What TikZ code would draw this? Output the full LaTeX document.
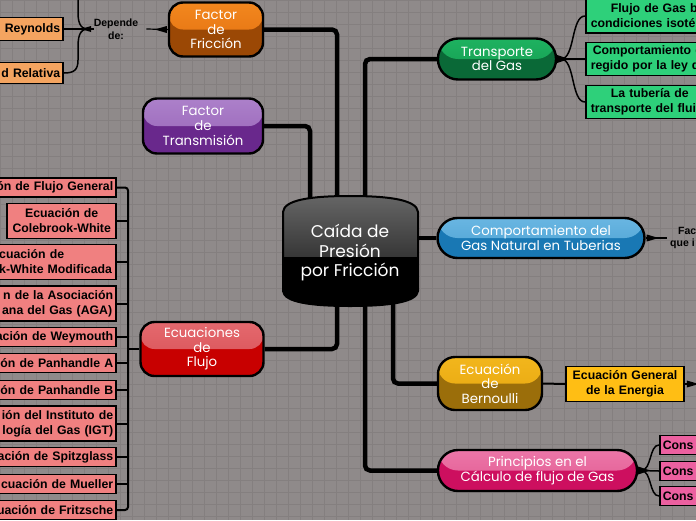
\documentclass[tikz,border=0pt]{standalone}
\usepackage{fontspec}
\newfontfamily\mfont{Poppins}
\newfontfamily\lfont{Liberation Sans}
\pgfdeclarelayer{grid}
\pgfdeclarelayer{lines}
\pgfsetlayers{grid,lines,main}
\definecolor{bgc}{RGB}{143,138,138}
\definecolor{gridc}{RGB}{132,127,127}
\definecolor{fricT}{RGB}{242,135,30}\definecolor{fricM}{RGB}{226,110,15}\definecolor{fricB}{RGB}{155,72,5}
\definecolor{purT}{RGB}{172,128,202}\definecolor{purM}{RGB}{150,98,182}\definecolor{purB}{RGB}{105,40,140}
\definecolor{redT}{RGB}{228,105,110}\definecolor{redM}{RGB}{215,78,82}\definecolor{redB}{RGB}{200,0,0}
\definecolor{grnT}{RGB}{30,178,96}\definecolor{grnM}{RGB}{20,155,80}\definecolor{grnB}{RGB}{10,105,55}
\definecolor{bluT}{RGB}{105,182,226}\definecolor{bluM}{RGB}{75,160,210}\definecolor{bluB}{RGB}{25,120,180}
\definecolor{gldT}{RGB}{242,182,28}\definecolor{gldM}{RGB}{230,165,15}\definecolor{gldB}{RGB}{155,110,10}
\definecolor{pnkT}{RGB}{236,118,168}\definecolor{pnkM}{RGB}{225,90,145}\definecolor{pnkB}{RGB}{205,15,95}
\definecolor{cylT}{RGB}{102,102,102}\definecolor{cylM}{RGB}{55,55,55}
\definecolor{lorange}{RGB}{244,164,96}
\definecolor{lred}{RGB}{240,128,128}
\definecolor{lgreen}{RGB}{46,208,122}
\definecolor{lgold}{RGB}{255,190,20}
\definecolor{lpink}{RGB}{236,96,160}
\begin{document}
\begin{tikzpicture}[x=1pt,y=-1pt,
  mnode/.style n args={3}{draw=black, line width=2.4pt, rounded corners=14pt, fill=#3,
    text=white, align=center, inner sep=0pt, font=\mfont\fontsize{13.3}{14.6}\selectfont,
    path picture={\shade[top color=#1, bottom color=#2] (path picture bounding box.north west) rectangle (path picture bounding box.east);}},
  pill/.style={rounded corners=20pt},
  leaf/.style={draw=black, line width=1.6pt, inner xsep=3pt, inner ysep=0pt, text=black,
    font=\lfont\bfseries\fontsize{12.3}{15}\selectfont},
  rleaf/.style={leaf, fill=lred, anchor=east, text width=160, align=right},
  small/.style={font=\lfont\bfseries\fontsize{10.5}{12.5}\selectfont, inner sep=0pt, text=black},
  mline/.style={line width=4.5pt, rounded corners=5pt},
  sline/.style={line width=2pt, rounded corners=3pt},
  fork/.style={line width=1.5pt},
  thinl/.style={line width=1.2pt}]
\useasboundingbox (0,0) rectangle (696,520);
\begin{pgfonlayer}{grid}
\fill[bgc] (0,0) rectangle (696,520);
\foreach \i in {0,12,...,696} \draw[gridc, line width=0.5pt] (\i,0) -- (\i,520);
\foreach \j in {0,12,...,520} \draw[gridc, line width=0.5pt] (0,\j) -- (696,\j);
\end{pgfonlayer}

% central cylinder
\begin{scope}
\clip (283,212) .. controls (284,200) and (310,196) .. (350,196) .. controls (390,196) and (417,200) .. (418,212)
  -- (418,291) .. controls (417,302) and (390,306) .. (350,306) .. controls (310,306) and (284,302) .. (283,291) -- cycle;
\fill[black] (270,190) rectangle (430,310);
\shade[top color=cylT, bottom color=cylM] (270,195) rectangle (430,256);
\end{scope}
\draw[line width=2pt] (283,212) .. controls (284,200) and (310,196) .. (350,196) .. controls (390,196) and (417,200) .. (418,212)
  -- (418,291) .. controls (417,302) and (390,306) .. (350,306) .. controls (310,306) and (284,302) .. (283,291) -- cycle;
\node[font=\mfont\fontsize{17}{19.5}\selectfont, text=white, align=center, inner sep=0pt] (c) at (350,253) {Caída de\\Presión\\por Fricción};

% main nodes
\node[mnode={fricT}{fricM}{fricB}, minimum width=94, minimum height=54] (fric) at (216,29.5) {Factor\\de\\Fricción};
\node[mnode={purT}{purM}{purB}, minimum width=120, minimum height=55] (trans) at (203,126) {Factor\\de\\Transmisión};
\node[mnode={redT}{redM}{redB}, minimum width=123, minimum height=54] (ef) at (202,349) {Ecuaciones\\de\\Flujo};
\node[mnode={grnT}{grnM}{grnB}, pill, minimum width=118, minimum height=41] (tg) at (497,59) {Transporte\\del Gas};
\node[mnode={bluT}{bluM}{bluB}, pill, minimum width=207, minimum height=40] (cg) at (541,238) {Comportamiento del\\Gas Natural en Tuberias};
\node[mnode={gldT}{gldM}{gldB}, minimum width=104, minimum height=53, rounded corners=17pt] (bern) at (490,383.5) {Ecuación\\de\\Bernoulli};
\node[mnode={pnkT}{pnkM}{pnkB}, pill, minimum width=199, minimum height=41] (pr) at (537.5,470.5) {Principios en el\\Cálculo de flujo de Gas};

% Factor de friccion children
\node[small, align=center] (dep) at (116,29) {Depende\\de:};
\node[leaf, fill=lorange, anchor=east, minimum height=23, text width=100, align=right] (o1) at (64,29) {Reynolds};
\node[leaf, fill=lorange, anchor=east, minimum height=21, text width=100, align=right] (o2) at (64,73) {d Relativa};

% Ecuaciones de flujo children
\node[rleaf, minimum height=19] (l1) at (117,187.5) {ón de Flujo General};
\node[leaf, fill=lred, anchor=east, minimum height=35, text width=103, align=center] (l2) at (117,221) {Ecuación de\\Colebrook-White};
\node[rleaf, minimum height=35] (l3) at (117,262) {\makebox[114pt][l]{cuación de}\\\makebox[114pt][l]{k-White Modificada}};
\node[rleaf, minimum height=35] (l4) at (117,303.5) {n de la Asociación\\ana del Gas (AGA)\hspace*{1pt}};
\node[rleaf, minimum height=19] (l5) at (117,337) {ación de Weymouth};
\node[rleaf, minimum height=19] (l6) at (117,363) {ón de Panhandle A};
\node[rleaf, minimum height=19] (l7) at (117,390) {ón de Panhandle B};
\node[rleaf, minimum height=35] (l8) at (117,423.5) {ión del Instituto de\hspace*{2pt}\\logía del Gas (IGT)};
\node[rleaf, minimum height=19] (l9) at (117,457) {ación de Spitzglass};
\node[rleaf, minimum height=19] (l10) at (117,484) {cuación de Mueller};
\node[rleaf, minimum height=19] (l11) at (117,510) {uación de Fritzsche};
\coordinate (busx) at (128,0);

% Transporte children
\node[leaf, fill=lgreen, anchor=west, minimum height=35, text width=160, align=left, inner xsep=5pt] (g1) at (585,15.5) {\hspace*{20pt}Flujo de Gas b\\condiciones isoté};
\node[leaf, fill=lgreen, anchor=west, minimum height=33, text width=160, align=left, inner xsep=5pt] (g2) at (585,59) {\hspace*{2pt}Comportamiento d\\regido por la ley d};
\node[leaf, fill=lgreen, anchor=west, minimum height=33, text width=160, align=left, inner xsep=5pt] (g3) at (585,102) {\hspace*{20pt}La tubería de\\transporte del flui};

% Comportamiento label
\node[small, anchor=west, align=left] (fq) at (670,238) {\hspace*{8pt}Fac\\que i};

% Bernoulli child
\node[leaf, fill=lgold, minimum height=35, text width=112, align=center] (gl) at (625,384) {Ecuación General\\de la Energia};
\coordinate (gend) at (712,384);

% Principios children
\node[leaf, fill=lpink, anchor=west, minimum height=19, text width=60, align=left] (p1) at (659,445) {Cons};
\node[leaf, fill=lpink, anchor=west, minimum height=19, text width=60, align=left] (p2) at (659,471) {Cons};
\node[leaf, fill=lpink, anchor=west, minimum height=19, text width=60, align=left] (p3) at (659,496) {Cons};

% connector anchor points
\coordinate (cf) at (337,230); \coordinate (ct) at (310,230); \coordinate (cg0) at (365,230);
\coordinate (ce) at (337,280); \coordinate (cb) at (393,280); \coordinate (cp) at (365,280);
\coordinate (cc) at (405,238);
\coordinate (th) at (561,59); \coordinate (ph) at (641,470.5);
\coordinate (dh) at (88,29); \coordinate (up) at (78,-8);

\begin{pgfonlayer}{lines}
\draw[mline] (fric.east) -| (cf);
\draw[mline] (trans.east) -| (ct);
\draw[mline] (tg.west) -| (cg0);
\draw[mline] (ce) |- (ef.east);
\draw[mline] (cb) |- (bern.west);
\draw[mline] (cp) |- (pr.west);
\draw[mline] (cc) -- (cg.west);
% red bus
\draw[sline] (l1.east) -| (l11.east -| busx) -- (l11.east);
\foreach \k in {2,...,10} \draw[sline] (l\k.east) -- (l\k.east -| busx);
\draw[sline] (ef.west) -- (ef.west -| busx);
% bernoulli
\draw[sline] (bern.east) -- (gl.west);
\draw[thinl] (gl.east) -- (gend);
% arrows to labels
\draw[thinl] (fric.west) -- ([xshift=8pt]dep.east);
\draw[thinl] (cg.east) -- ([xshift=-3pt]fq.west);
% transporte fork
\draw[fork] (tg.east) -- (th);
\draw[fork] (th) .. controls (575,59) and (571,16) .. (g1.west |- 0,16);
\draw[fork] (th) -- (g2.west);
\draw[fork] (th) .. controls (575,59) and (571,102) .. (g3.west);
\fill (tg.east) ++(0,-4) -- ++(12,4) -- ++(-12,4) -- cycle;
% principios fork
\draw[fork] (pr.east) -- (ph);
\draw[fork] (ph) .. controls (652,470.5) and (649,445) .. (p1.west);
\draw[fork] (ph) -- (p2.west);
\draw[fork] (ph) .. controls (652,470.5) and (649,496) .. (p3.west);
\fill (pr.east) ++(0,-4) -- ++(12,4) -- ++(-12,4) -- cycle;
% depende fork
\draw[fork] (dep.west) -- (dh) -- (o1.east);
\draw[fork] (dh) .. controls (79,29) and (78,38) .. (78,48) -- (78,60) .. controls (78,70) and (74,73) .. (o2.east);
\draw[fork] (dh) .. controls (79,29) and (78,20) .. (78,12) -- (up);
\fill (dh) ++(3,-3) -- ++(-10,3) -- ++(10,3) -- cycle;
\end{pgfonlayer}
% wedges
\fill ([xshift=-1pt]fric.west) -- ++(0,-3.5) -- ++(-12,3.5) -- ++(12,3.5) -- cycle;
\fill ([xshift=1pt]cg.east) -- ++(0,-3.5) -- ++(12,3.5) -- ++(-12,3.5) -- cycle;
\fill ([xshift=2pt]gl.east) -- ++(0,-3.5) -- ++(12,3.5) -- ++(-12,3.5) -- cycle;
\end{tikzpicture}
\end{document}
